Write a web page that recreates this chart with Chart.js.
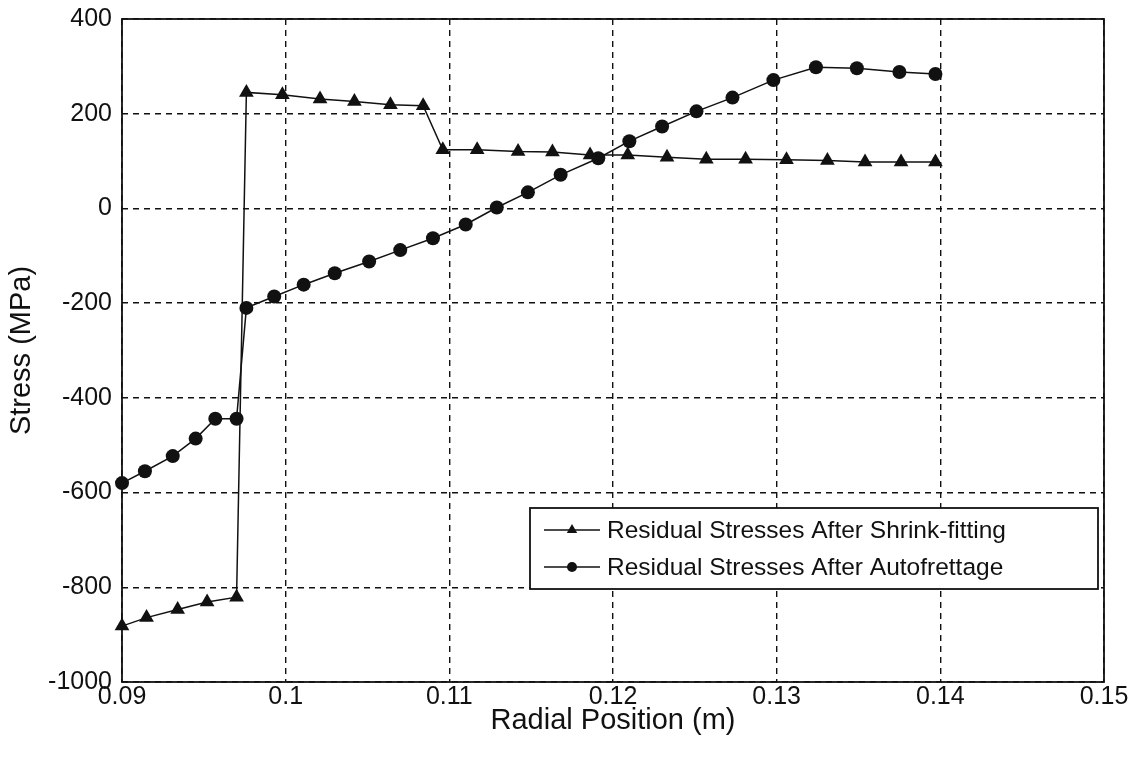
<!DOCTYPE html>
<html>
<head>
<meta charset="utf-8">
<script src="https://cdn.jsdelivr.net/npm/chart.js@4.4.1/dist/chart.umd.min.js"></script>
<style>
  html, body { margin: 0; padding: 0; background: #fff; }
</style>
</head>
<body>
<canvas id="chart" width="1137" height="761"></canvas>
<script>
// values
var shrinkX = [0.0900, 0.0915, 0.0934, 0.0952, 0.0970, 0.0976, 0.0998, 0.1021, 0.1042, 0.1064, 0.1084, 0.1096, 0.1117,
               0.1142, 0.1163, 0.1186, 0.1209, 0.1233, 0.1257, 0.1281, 0.1306, 0.1331, 0.1354, 0.1376, 0.1397];
var shrinkY = [-882, -864, -847, -831, -821, 245, 240, 231, 226, 219, 217, 124, 124,
               120, 119, 113, 113, 108, 104, 104, 103, 101, 98, 98, 98];

var autoX = [0.0900, 0.0914, 0.0931, 0.0945, 0.0957, 0.0970, 0.0976, 0.0993, 0.1011, 0.1030, 0.1051, 0.1070, 0.1090, 0.1110,
             0.1129, 0.1148, 0.1168, 0.1191, 0.1210, 0.1230, 0.1251, 0.1273, 0.1298, 0.1324, 0.1349, 0.1375, 0.1397];
var autoY = [-580, -555, -523, -486, -444, -444, -210, -186, -161, -137, -112, -88, -63, -34,
             2, 34, 71, 106, 142, 173, 205, 234, 271, 298, 296, 288, 284];

var xTicks = [0.09, 0.10, 0.11, 0.12, 0.13, 0.14, 0.15];
var xTickLabels = ['0.09', '0.1', '0.11', '0.12', '0.13', '0.14', '0.15'];
var yTicks = [-1000, -800, -600, -400, -200, 0, 200, 400];
var yTickLabels = ['-1000', '-800', '-600', '-400', '-200', '0', '200', '400'];

var seriesNames = ['Residual Stresses After Shrink-fitting', 'Residual Stresses After Autofrettage'];

var FONT = "'Liberation Sans', Arial, sans-serif";
var INK = '#111';

function toPoints(xs, ys) {
    return xs.map(function(x, i) { return { x: x, y: ys[i] }; });
}

// solid frame round the plot area, over the grid but under the lines
var framePlugin = {
    id: 'frame',
    beforeDatasetsDraw: function(chart) {
        var a = chart.chartArea, ctx = chart.ctx;
        ctx.save();
        ctx.strokeStyle = INK;
        ctx.lineWidth = 1.8;
        ctx.setLineDash([]);
        ctx.strokeRect(a.left, a.top, a.right - a.left, a.bottom - a.top);
        ctx.restore();
    }
};

// boxed legend with line + marker samples
var legendPlugin = {
    id: 'boxLegend',
    afterDraw: function(chart) {
        var a = chart.chartArea, ctx = chart.ctx;
        var right = a.right - 6, bottom = a.bottom - 93;
        var w = 568, h = 81;
        var left = right - w, top = bottom - h;
        ctx.save();
        ctx.fillStyle = '#fff';
        ctx.fillRect(left, top, w, h);
        ctx.strokeStyle = INK;
        ctx.lineWidth = 1.8;
        ctx.strokeRect(left, top, w, h);

        var rows = [top + 22, top + 59];
        ctx.font = '24.5px ' + FONT;
        ctx.textBaseline = 'middle';
        rows.forEach(function(y, i) {
            ctx.strokeStyle = INK;
            ctx.lineWidth = 1.5;
            ctx.beginPath();
            ctx.moveTo(left + 14, y);
            ctx.lineTo(left + 70, y);
            ctx.stroke();
            ctx.fillStyle = INK;
            var cx = left + 42;
            ctx.beginPath();
            if (i === 0) {
                var r = 6;
                ctx.moveTo(cx, y - r);
                ctx.lineTo(cx + r * 0.866, y + r * 0.5);
                ctx.lineTo(cx - r * 0.866, y + r * 0.5);
                ctx.closePath();
            } else {
                ctx.arc(cx, y, 5, 0, Math.PI * 2);
            }
            ctx.fill();
            ctx.fillText(seriesNames[i], left + 77, y + 1);
        });
        ctx.restore();
    }
};

var ctx = document.getElementById('chart').getContext('2d');

var chart = new Chart(ctx, {
    type: 'line',
    data: {
        datasets: [{
            label: seriesNames[0],
            data: toPoints(shrinkX, shrinkY),
            borderColor: INK,
            backgroundColor: INK,
            borderWidth: 1.5,
            pointStyle: 'triangle',
            pointRadius: 8.5,
            pointBorderWidth: 0,
            tension: 0,
            clip: false
        }, {
            label: seriesNames[1],
            data: toPoints(autoX, autoY),
            borderColor: INK,
            backgroundColor: INK,
            borderWidth: 1.5,
            pointStyle: 'circle',
            pointRadius: 7,
            pointBorderWidth: 0,
            tension: 0,
            clip: false
        }]
    },
    options: {
        responsive: false,
        animation: false,
        layout: { padding: { top: 19, right: 33, left: 0, bottom: 0 } },
        plugins: {
            legend: { display: false },
            tooltip: { enabled: false }
        },
        scales: {
            x: {
                type: 'linear',
                min: 0.09,
                max: 0.15,
                afterBuildTicks: function(s) {
                    s.ticks = xTicks.map(function(v) { return { value: v }; });
                },
                afterFit: function(s) {
                    s.height = 79;
                    s.paddingLeft = 0;
                    s.paddingRight = 0;
                },
                ticks: {
                    padding: 0,
                    color: INK,
                    font: { family: FONT, size: 25 },
                    maxRotation: 0,
                    autoSkip: false,
                    callback: function(v, i) { return xTickLabels[i]; }
                },
                grid: { color: INK, lineWidth: 1.4, drawTicks: false },
                border: { display: false, dash: [6, 5] },
                title: {
                    display: true,
                    text: 'Radial Position (m)',
                    color: INK,
                    font: { family: FONT, size: 29 },
                    padding: { top: 0, bottom: 23 }
                }
            },
            y: {
                type: 'linear',
                min: -1000,
                max: 400,
                afterBuildTicks: function(s) {
                    s.ticks = yTicks.map(function(v) { return { value: v }; });
                },
                afterFit: function(s) {
                    s.width = 122;
                    s.paddingTop = 0;
                    s.paddingBottom = 0;
                },
                ticks: {
                    padding: 10,
                    color: INK,
                    font: { family: FONT, size: 25 },
                    autoSkip: false,
                    callback: function(v, i) { return yTickLabels[i]; }
                },
                grid: { color: INK, lineWidth: 1.4, drawTicks: false },
                border: { display: false, dash: [6, 5] },
                title: {
                    display: true,
                    text: 'Stress (MPa)',
                    color: INK,
                    font: { family: FONT, size: 29 },
                    padding: { top: 5, bottom: 0 }
                }
            }
        }
    },
    plugins: [framePlugin, legendPlugin]
});
</script>
</body>
</html>
